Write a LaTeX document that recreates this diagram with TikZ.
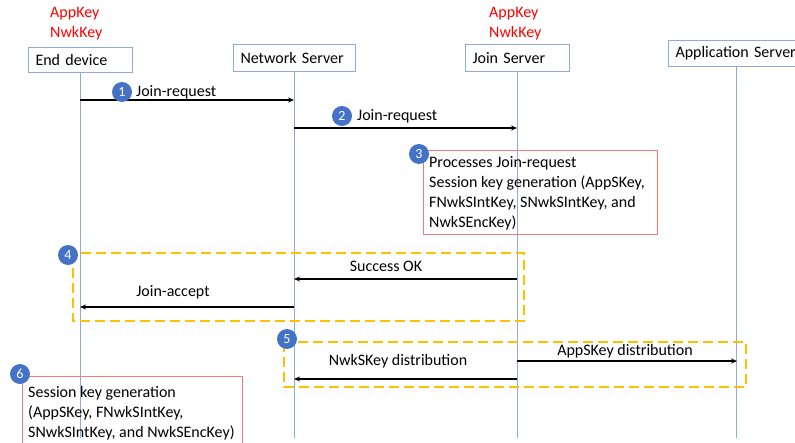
\documentclass[tikz,border=0pt]{standalone}
\usepackage{fontspec}
\setmainfont{Carlito}
\usetikzlibrary{arrows.meta}
\definecolor{lifeblue}{RGB}{143,170,220}
\definecolor{numblue}{RGB}{68,114,196}
\definecolor{boxred}{RGB}{250,120,125}
\definecolor{dashorange}{RGB}{255,192,0}
\begin{document}
\begin{tikzpicture}[x=1pt,y=-1pt,
  font=\fontsize{16}{20}\selectfont,
  actor/.style={draw=lifeblue, line width=1pt, fill=white, anchor=north west, inner xsep=7pt, inner ysep=0pt, align=left},
  lifeline/.style={draw=lifeblue, line width=1pt},
  msg/.style={draw=black, line width=1.5pt, -{Stealth[length=6pt,width=5pt]}},
  lbl/.style={inner sep=0pt},
  keylbl/.style={text=red, inner sep=0pt, anchor=west},
  num/.style={circle, fill=numblue, text=white, minimum size=20pt, inner sep=0pt, font=\fontsize{14}{14}\selectfont},
  notebox/.style={draw=boxred, line width=1pt},
  group/.style={draw=dashorange, line width=2pt, dash pattern=on 10pt off 5pt},
  note/.style={inner sep=0pt, anchor=north west, align=left}
]
\useasboundingbox (0,0) rectangle (795,443);

% lifelines
\coordinate (edb) at (80,438);
\coordinate (nsb) at (294,438);
\coordinate (jsb) at (517,438);
\coordinate (asb) at (736,438);
\draw[lifeline] (80,72) -- (edb);
\draw[lifeline] (294,71) -- (nsb);
\draw[lifeline] (517,71) -- (jsb);
\draw[lifeline] (736,66) -- (asb);

% actor boxes
\node[actor, minimum width=104pt, minimum height=25pt, text width=90pt] (ed) at (28,47) {End device};
\node[actor, minimum width=122pt, minimum height=27pt, text width=108pt] (ns) at (233,44) {Network Server};
\node[actor, minimum width=104pt, minimum height=27pt, text width=90pt] (js) at (465,44) {Join Server};
\node[actor, minimum width=140pt, minimum height=26pt, text width=126pt] (as) at (668,40) {Application Server};

% keys
\node[keylbl] (edk1) at (50,14) {AppKey};
\node[keylbl] (edk2) at (50,33) {NwkKey};
\node[keylbl] (jsk1) at (489,14) {AppKey};
\node[keylbl] (jsk2) at (489,33) {NwkKey};

% message points
\coordinate (ed1) at (80,100);  \coordinate (ns1) at (294,100);
\coordinate (ns2) at (294,128); \coordinate (js2) at (517,128);
\coordinate (js4) at (517,279); \coordinate (ns4) at (294,279);
\coordinate (ns5) at (294,307); \coordinate (ed5) at (80,307);
\coordinate (js6) at (517,361); \coordinate (as6) at (737,361);
\coordinate (js7) at (517,379); \coordinate (ns7) at (294,379);

% notes and groups
\draw[notebox] (423,151) rectangle (657,235);
\node[note] (n3) at (429,156) {Processes Join-request\\Session key generation (AppSKey,\\FNwkSIntKey, SNwkSIntKey, and\\NwkSEncKey)};
\draw[group] (73,253) rectangle (524,321);
\draw[group] (284,342) rectangle (746,387);
\draw[notebox] (22,377) rectangle (242,450);
\node[note] (n6) at (28,386) {Session key generation\\(AppSKey, FNwkSIntKey,\\SNwkSIntKey, and NwkSEncKey)};

% messages
\draw[msg] (ed1) -- (ns1);
\node[lbl, anchor=west] (l1) at (136,92) {Join-request};
\draw[msg] (ns2) -- (js2);
\node[lbl, anchor=west] (l2) at (357,116) {Join-request};
\draw[msg] (js4) -- (ns4);
\node[lbl] (l4) at (386,266) {Success OK};
\draw[msg] (ns5) -- (ed5);
\node[lbl] (l5) at (173,292) {Join-accept};
\draw[msg] (js6) -- (as6);
\node[lbl] (l6) at (625,351) {AppSKey distribution};
\draw[msg] (js7) -- (ns7);
\node[lbl] (l7) at (398,361) {NwkSKey distribution};

% step numbers
\node[num] (c1) at (122,92) {1};
\node[num] (c2) at (342,116) {2};
\node[num] (c3) at (419,154) {3};
\node[num] (c4) at (68,255) {4};
\node[num] (c5) at (287,339) {5};
\node[num] (c6) at (20,374) {6};
\end{tikzpicture}
\end{document}
